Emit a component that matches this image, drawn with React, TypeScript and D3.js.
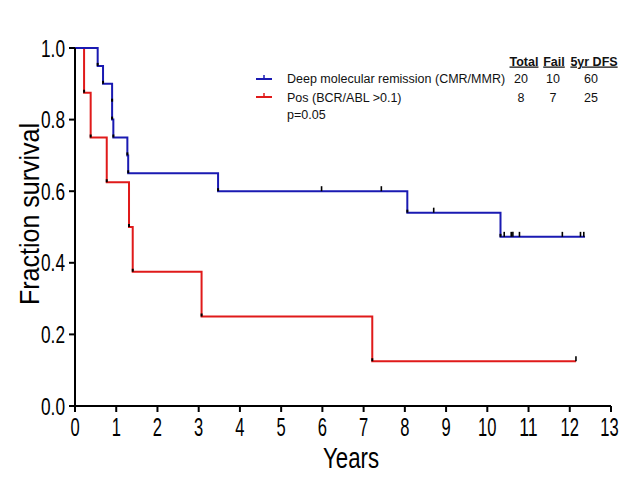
import React from "react";
import * as d3 from "d3";

// ---- Data ----
const blueTimes = [0, 0.55, 0.68, 0.9, 0.9, 0.93, 1.27, 1.29, 3.47, 8.06, 10.32];
const blueSurv = [1.0, 0.95, 0.9, 0.85, 0.8, 0.75, 0.7, 0.65, 0.6, 0.54, 0.4725];
const blueEnd = 12.37;
const blueCensor = [5.98, 7.43, 8.7, 10.41, 10.58, 10.62, 10.78, 11.82, 12.26, 12.34];

const redTimes = [0, 0.22, 0.38, 0.77, 1.31, 1.4, 3.07, 7.21];
const redSurv = [1.0, 0.875, 0.75, 0.625, 0.5, 0.375, 0.25, 0.125];
const redEnd = 12.15;
const redCensor = [12.15];

const xTicks = d3.range(0, 14);
const yTicks = [0, 0.2, 0.4, 0.6, 0.8, 1.0];

const legendLabels = ["Deep molecular remission (CMR/MMR)", "Pos (BCR/ABL >0.1)"];
const tableHeaders = ["Total", "Fail", "5yr DFS"];
const tableRows = [
  ["20", "10", "60"],
  ["8", "7", "25"],
];
const pValue = "p=0.05";

const W = 626;
const H = 477;
const x = d3.scaleLinear().domain([0, 13]).range([75, 611]);
const y = d3.scaleLinear().domain([0, 1]).range([406, 48]);

const BLUE = "#1a1ab2";
const RED = "#e01a1a";
const FONT = "'Liberation Sans', Arial, sans-serif";

function stepPath(times: number[], surv: number[], end: number) {
  const pts: [number, number][] = [];
  for (let i = 0; i < times.length; i++) {
    if (i > 0) pts.push([times[i], surv[i - 1]]);
    pts.push([times[i], surv[i]]);
  }
  pts.push([end, surv[surv.length - 1]]);
  return d3
    .line<[number, number]>()
    .x((d) => x(d[0]))
    .y((d) => y(d[1]))(pts) as string;
}

function survAt(times: number[], surv: number[], t: number) {
  let s = surv[0];
  for (let i = 0; i < times.length; i++) if (times[i] <= t) s = surv[i];
  return s;
}

function Curve({ times, surv, end, censor, color }: any) {
  return (
    <g>
      <path d={stepPath(times, surv, end)} fill="none" stroke={color} strokeWidth={2} />
      {times.slice(1).map((t: number, i: number) => (
        <line
          key={"c" + i}
          x1={x(t)}
          x2={x(t)}
          y1={y(surv[i + 1]) - 3}
          y2={y(surv[i + 1])}
          stroke="#000"
          strokeWidth={2}
        />
      ))}
      {censor.map((t: number, i: number) => (
        <line
          key={"k" + i}
          x1={x(t)}
          x2={x(t)}
          y1={y(survAt(times, surv, t)) - 5}
          y2={y(survAt(times, surv, t))}
          stroke="#000"
          strokeWidth={1.6}
        />
      ))}
    </g>
  );
}

export default function App() {
  return (
    <svg width={W} height={H} style={{ position: "absolute", left: 0, top: 0, background: "#fff" }}>
      <rect width={W} height={H} fill="#fff" />
      {/* curves */}
      <Curve times={redTimes} surv={redSurv} end={redEnd} censor={redCensor} color={RED} />
      <Curve times={blueTimes} surv={blueSurv} end={blueEnd} censor={blueCensor} color={BLUE} />

      {/* axes */}
      <line x1={x(0)} x2={x(13)} y1={y(0)} y2={y(0)} stroke="#000" strokeWidth={2} />
      <line x1={x(0)} x2={x(0)} y1={y(0) + 1} y2={y(1)} stroke="#000" strokeWidth={2} />
      {yTicks.map((v) => (
        <g key={"y" + v}>
          <line x1={x(0) - 6} x2={x(0)} y1={y(v)} y2={y(v)} stroke="#000" strokeWidth={2} />
          <text
            x={65}
            y={y(v) + 8.5}
            textAnchor="end"
            fontFamily={FONT}
            fontSize={23.5}
            textLength={24}
            lengthAdjust="spacingAndGlyphs"
          >
            {v.toFixed(1)}
          </text>
        </g>
      ))}
      {xTicks.map((v) => (
        <g key={"x" + v}>
          <line x1={x(v)} x2={x(v)} y1={y(0)} y2={y(0) + 6} stroke="#000" strokeWidth={2} />
          <text
            x={x(v) - (v === 13 ? 1.5 : 0)}
            y={436}
            textAnchor="middle"
            fontFamily={FONT}
            fontSize={26}
            textLength={String(v).length * 9.2}
            lengthAdjust="spacingAndGlyphs"
          >
            {v}
          </text>
        </g>
      ))}

      {/* axis titles */}
      <text
        x={351}
        y={468}
        textAnchor="middle"
        fontFamily={FONT}
        fontSize={30}
        textLength={56}
        lengthAdjust="spacingAndGlyphs"
      >
        Years
      </text>
      <text
        transform={`translate(38.5,214) rotate(-90)`}
        textAnchor="middle"
        fontFamily={FONT}
        fontSize={28}
        textLength={182}
        lengthAdjust="spacingAndGlyphs"
      >
        Fraction survival
      </text>

      {/* legend */}
      {[BLUE, RED].map((c, i) => {
        const ly = i === 0 ? 79 : 97;
        return (
          <g key={"l" + i}>
            <line x1={256} x2={272} y1={ly} y2={ly} stroke={c} strokeWidth={2} />
            <line x1={264} x2={264} y1={ly - 4} y2={ly} stroke={c} strokeWidth={1.5} />
            <text x={287} y={i === 0 ? 83 : 101.5} fontFamily={FONT} fontSize={12.5} fill="#111">
              {legendLabels[i]}
            </text>
          </g>
        );
      })}
      <text x={287} y={119} fontFamily={FONT} fontSize={12.5} fill="#111">
        {pValue}
      </text>
      {tableHeaders.map((h, i) => (
        <text
          key={"h" + i}
          x={[524, 554, 594][i]}
          y={65.5}
          textAnchor="middle"
          fontFamily={FONT}
          fontSize={12.5}
          fontWeight="bold"
          textDecoration="underline"
          fill="#111"
        >
          {h}
        </text>
      ))}
      {tableRows.map((row, r) =>
        row.map((v, i) => (
          <text
            key={"t" + r + i}
            x={[521, 553, 591][i]}
            y={r === 0 ? 83 : 101.5}
            textAnchor="middle"
            fontFamily={FONT}
            fontSize={12.5}
            fill="#111"
          >
            {v}
          </text>
        ))
      )}
    </svg>
  );
}
